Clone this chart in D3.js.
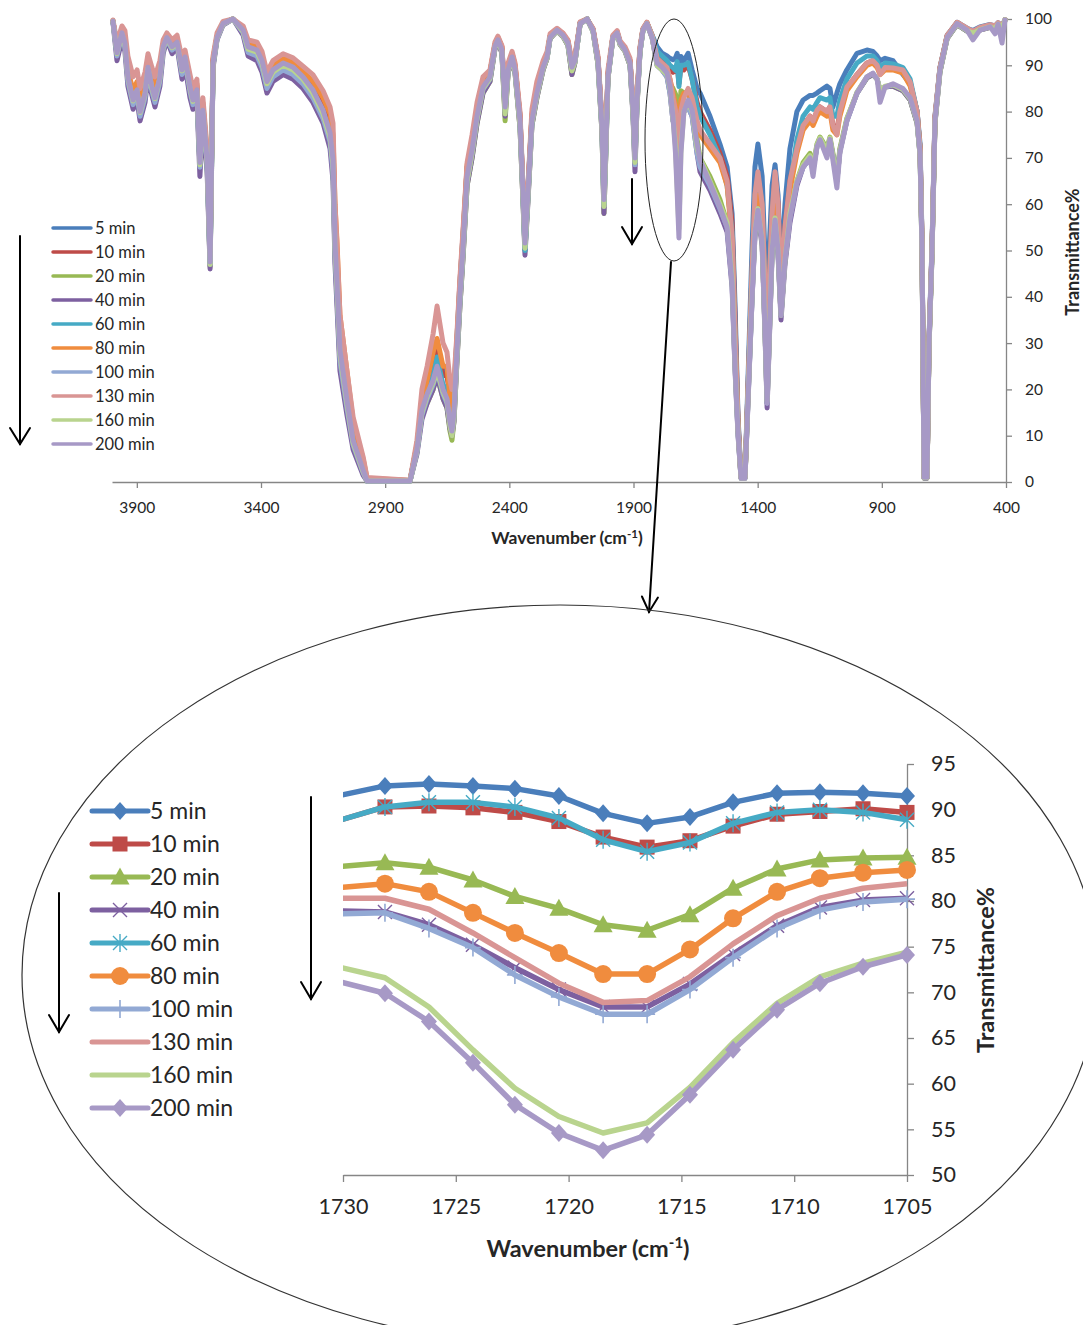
<!DOCTYPE html>
<html><head><meta charset="utf-8">
<script src="https://cdn.jsdelivr.net/npm/d3@7"></script>
<style>body{margin:0;background:#fff}svg{display:block}</style>
</head><body><svg id="c" width="1083" height="1325"></svg>
<script>
const seriesNames = ["5 min","10 min","20 min","40 min","60 min","80 min","100 min","130 min","160 min","200 min"];
const seriesColors = ["#4A7EBB","#BE4B48","#98B954","#7D60A0","#46AAC5","#F08C3E","#92A9D4","#D99594","#B9D48E","#A799C6"];
const seriesMarkers = ["diamond","square","triangle","x","star","circle","plus","none","none","diamond"];

const topXTicks = [3900,3400,2900,2400,1900,1400,900,400];
const topYTicks = [0,10,20,30,40,50,60,70,80,90,100];
const topWavenumbers = [
3996,3980,3960,3948,3936,3915,3899,3887,3867,3855,
3839,3827,3807,3794,3779,3758,3738,3718,3706,3686,
3674,3658,3646,3634,3617,3605,3593,3577,3553,3513,
3472,3452,3416,3396,3376,3352,3311,3271,3231,3191,
3150,3122,3110,3102,3094,3082,3054,3029,2989,2973,
2800,2772,2752,2731,2707,2691,2667,2651,2639,2631,
2623,2611,2599,2587,2570,2550,2530,2506,2478,2458,
2446,2430,2417,2405,2389,2377,2357,2345,2337,2325,
2309,2289,2264,2248,2236,2208,2184,2164,2148,2136,
2115,2087,2063,2043,2027,2019,2011,2003,1983,1966,
1954,1934,1914,1902,1894,1886,1874,1862,1846,1825,
1805,1785,1765,1753,1741,1731,1724,1717,1709,1697,
1680,1664,1644,1632,1592,1552,1523,1503,1491,1479,
1467,1451,1439,1423,1411,1399,1382,1370,1362,1354,
1342,1330,1318,1306,1290,1270,1242,1217,1189,1177,
1161,1149,1121,1109,1097,1081,1069,1041,1000,960,
936,919,907,887,855,815,786,758,746,738,
730,718,710,698,686,666,637,597,557,533,
505,464,444,432,416,404];

const top5 = [
99.6,93.5,97.2,95.2,88,83.5,85.5,81,85,90,
86,84,88,94.3,96.2,94.3,95.2,89.5,92,86,
83,85,70,81,70,48.5,91,96.2,99,100,
97.8,94.3,93.5,91.3,87,89.3,90.8,90,88,85.5,
81.5,77,72,56,48,33,21,11,3.5,0.5,
0.3,8,17,22,27,30,24,24,20,17,
20,31,43,53,68,73,80,86,88,94.3,
95.8,93.6,82,89.5,92,89.5,79,63.5,52,63.5,
79,85,90,92,96.2,97.8,96.7,95,90,91.3,
99.2,100,97.8,91.5,77.5,61.5,74,88,96.2,97.2,
95,93.6,91,81,71,83,93.5,97.8,99.2,96.5,
94,92.6,92,91.5,91.2,91.6,92.6,88.5,91.9,91,
92.6,89,85,84,79,73,68,58,38,14,
1,1,22,50,68,73,66,48,40,50,
64,68.5,62,45,60,72,80,82.5,83.5,83.5,
84,84.5,85.5,85,81,84,86,89,92.6,93.3,
93,92,91,91.5,91,88,86,80,73,52,
1.2,1.2,31,51,79,89.5,96.5,99.3,98,97.5,
98.3,98.8,98.5,99.2,98.5,99.8];
const top10 = [
99.6,93.5,97.4,95.3,88.5,84,86,82,86,90.5,
87,85,89,94.5,96.3,94.6,95.5,90,92.3,86.5,
83.5,85.5,70.5,81.5,70.5,48.5,91.2,96.3,99.1,100,
98,94.6,94,92,87.5,90,91.5,90.6,88.5,86,
82,78,73,57,49,34,22,12,4,0.5,
0.3,8,16.5,21,26,29,23,23,18,15,
18,30,42,52,68,73,80.5,86.5,88.5,94.5,
96,94,82,90,92.5,90,79,63,52,63,
79,85,90,92.2,96.3,97.8,96.8,95.2,90.2,91.5,
99.2,100,97.8,91.5,77.5,62,74,88,96.2,97.2,
95,93.5,91,81,71,83,93.5,97.8,99.2,96.3,
92,91,90,89,88.5,88.9,90.2,86,89.8,89,
90,87,82,80,76,71,66,56,35,13,
1,1,20,45,62,66,60,42,30,42,
58,66,60,42,55,65,72,77,79,78,
80,81,80,81,77,76,80,85,88,90.5,
91,90,88.5,89.5,89.5,89,86.4,80,72,51,
1,1,30,50,78.5,89.3,96.3,99.2,97.8,97,
98,98.6,98.3,99,98.2,99.8];
const top20 = [
99.4,92.3,96.8,94.3,87,82,84,79.5,83.5,89,
84.8,82.5,87,93.5,95.8,93.5,94.6,88.5,91.3,84.5,
81.5,84,68,79.5,68.5,46.5,90,95.8,98.9,100,
97.2,93.3,92.5,90,85.5,88,89.5,88.6,86.5,83.5,
79,73.5,67,49,40,26,16,8,2,0.2,
0.2,6.5,14.5,17,20,23,18,16,11,9,
13,26,38,48,64,70,77.5,84,86.5,93.5,
95,92.8,78,88.3,91.3,88.3,76.5,60.5,50,61,
77,83,89,91.5,95.8,97.4,96.2,94.3,88,90.5,
98.9,100,97.3,90.2,75.5,58,71.5,87,95.8,96.8,
94.5,93,90,79.5,68.5,81,92.8,97.5,99,96,
91,89.5,88,86,85,83.8,82.3,76.8,84.5,84,
84,81,74,70,66,61,56,45,26,11,
1,1,18,40,54,59,52,32,17,30,
50,57,50,36,48,58,65,69,71,68,
73,74.5,72,74.5,71,66,72,78.5,84,87.3,
88,87,84.5,85.3,85.5,84.5,82.5,77.5,70.5,49,
0.8,0.8,29,49,77.5,88.5,95.8,98.8,97.4,96.8,
97.6,98.2,97.8,98.8,98,99.8];
const top40 = [
99.3,91,95.5,93,85.5,80.5,82.5,78,82,87.5,
83.5,81,85.5,92.5,95.5,92.5,94,87,90,83,
80.5,82.5,66,78,67,46,89.5,95.5,98.7,100,
96.5,92,91,88.5,84,86.5,88,87,85,82,
77.5,72,65,47,38,24,14.5,7,1.5,0.2,
0.2,6,13.5,17,20,23,18,16,11.5,10,
13,26,38,48,64,70,77.5,84,86.5,93.5,
95,92.6,79,88.3,91.3,88.3,76.5,60.5,49,60.5,
77,83,89,91.5,95.8,97.4,96.2,94.3,88,90.5,
98.9,100,97.3,90.2,75.5,58,71.5,87,95.8,96.8,
94.5,93,90,79,67,81,92.8,97.5,99,96,
90,89,87.5,84,78,78.9,75.2,68.4,79.3,80,
81,79,71,67,63,58,54,42,24,10,
0.8,0.8,17,39,53,58,51,31,16,29,
49,56,49,35,47,56,64,68,70,67.5,
72.5,74,71.5,74,70.5,65,71.5,78,84,87.3,
88,87,84.5,85.3,85.5,84.5,82.5,77.5,70.5,49,
0.8,0.8,29,49,77.5,88.5,95.8,98.8,97.4,96.8,
97.6,98.2,97.8,98.8,98,99.8];
const top60 = [
99.5,92.7,97,94.8,87.5,82.5,84.7,80,84,89.6,
85.3,83,87.5,94,96,94,95,89,91.8,85.3,
82.5,84.7,69,80.3,69.5,47.5,90.5,96,99,100,
97.4,93.6,92.8,90.5,86,88.5,90,89,87,84,
80,75,69,52,44,29,18,9,2.6,0.2,
0.2,7,15,19,23,27,21,20,15,13,
16,28,40,50,66,71.7,79,85.3,87.5,94,
95.5,93.3,80.5,89,91.8,89,78,62,50,62,
78,84,89.6,91.8,96,97.6,96.5,94.8,89.2,91,
99,100,97.6,91,76.5,60,73,87.5,96,97,
94.8,93.3,90.5,80.3,70,82,93,97.6,99,96.5,
93,92,91,90,89.5,88.9,90.8,85.4,90,90,
90.5,87,81,79,75,70,64,54,33,12,
1,1,20,45,62,66,60,42,30,42,
58,65,58,41,54,64,74,79,81,80.5,
82,83,82.5,83,79,79,82.5,87,90.5,92,
92,91,89.5,90.5,90.3,89.5,87,80,72,51,
1,1,30,50,78.5,89.3,96.3,99.2,97.8,97.2,
98.1,98.6,98.4,99,98.3,99.8];
const top80 = [
99.6,93.5,97.5,95.5,89,84.5,86.5,82.5,86.5,91,
87.5,85.5,89,94.5,96.3,94.8,95.7,90.5,92.5,87,
84,86,71,82,71,49,91.5,96.3,99.1,100,
98,94.8,94.2,92,87.8,90,91.5,90.6,88.8,86.5,
83,79.5,75,60,52,36,24,13,5,0.8,
0.3,8,17,22,28,31,25,25,18,15,
18,31,43,53,68.5,73.5,80.8,86.5,88.5,94.5,
96,94,82,90,92.5,90,79,63,52,63,
79.5,85.5,90.3,92.3,96.3,97.8,96.8,95.2,90.2,91.5,
99.2,100,97.8,91.5,77.5,62,74,88,96.2,97.2,
95,93.5,91,81,71,83,93.5,97.8,99.2,96.3,
91,90,89,87,84,81.5,78.7,72,82.5,84,
84,82,77,75,72,69,64,52,31,12,
1,1,19,42,58,62,55,38,28,40,
55,62,55,40,52,63,71,76,78,77,
79,80,79,80,76,75,79,84.5,87.5,90,
90.5,89.5,88,89,89,88.3,85.5,79.5,72,51,
1,1,30,50,78.5,89.3,96.3,99.2,97.8,97,
98,98.6,98.3,99,98.2,99.8];
const top100 = [
99.4,92,96.5,94,86.5,81.5,83.7,79,83,88.6,
84.3,82,86.5,93.3,95.6,93.3,94.4,88,90.8,84.3,
81.5,83.7,68,79.3,68.5,47,90,95.7,98.8,100,
97,92.8,92,89.5,85,87.5,89,88,86,83,
78.5,73.5,67,49,40,26,16,8,2,0.2,
0.2,6.5,14.5,18,21,24,19,17,12.5,10.5,
14,27,39,49,65,71,78.5,84.8,87,93.8,
95.3,93,80,88.6,91.5,88.6,77.5,61.5,50.5,61.5,
77.5,83.5,89.3,91.6,95.9,97.5,96.3,94.5,89,90.7,
98.9,100,97.4,90.5,76,59.5,72,87.2,95.9,96.9,
94.6,93.1,90.2,79.6,68.5,81.5,92.8,97.5,99,96,
90,89,87.5,84,78,78.6,74.9,67.6,79,80,
81,79,71,68,64,59,55,43,25,10.5,
0.8,0.8,17.5,39,54,59,52,32,17,30,
50,57,50,36,48,57,64.6,68,70,67.5,
72.5,74,71.5,74,70.5,65,71.5,78,84,87.5,
88.2,87,84.5,85.3,85.8,84.8,82.8,77.8,70.8,49.5,
0.9,0.9,29.5,49.5,77.8,88.8,95.9,98.9,97.5,96.9,
97.7,98.3,97.9,98.9,98.1,99.8];
const top130 = [
99.8,95,98.5,97.5,92,87.5,89,85,88.5,92.5,
89.5,87.5,91,95.5,97,95.5,96.5,91.5,93.3,88,
85,87,72,83,72,50,92,97,99.5,100,
98.5,95.5,95,93,88.5,91,92.5,91.6,89.8,88,
84.5,81,77.5,60,51,36,24,14,5.5,1,
0.4,9,20,25,32,38,30,28,22,20,
22,32,44,54,69,75,82,87.5,89,95,
96.3,94.3,82.5,90.5,93,90.5,80,64,53,64,
80.5,86.5,91,93,96.8,98,97,95.5,91,92,
99.4,100,98,92,78.5,63,75,89,96.5,97.5,
95.3,94,91.5,82,72,84,94,98,99.3,96.5,
91.5,90.5,89.5,87,83,80.3,76.5,69,80.3,83,
85,83,78,76,73,70,65,53,32,12,
1,1,20,45,62,67,60,42,30,42,
58,67,60,42,55,65,72,77,79,78,
80.3,81,80,81,77,75,80,85.3,88,90.5,
91,90,88,89.5,89.4,89,86.4,80,72,51,
1,1,30.5,50.5,79,89.5,96.5,99.3,98,97.3,
98.2,98.8,98.5,99.2,98.5,99.8];
const top160 = [
99.5,92.5,96.8,94.5,87.3,82.3,84.5,79.8,83.8,89.4,
85,82.8,87.3,93.8,95.9,93.8,94.8,88.8,91.6,85,
82.2,84.4,68.5,80,69,47,90.3,95.9,98.9,100,
97.3,93.5,92.8,90.5,86,88.5,90,89,87,84,
79.5,74.5,68.5,50.5,42,27.5,17,8.5,2.3,0.2,
0.2,6.8,15,18.5,21.5,24,19.5,17.5,12,10,
14,27,39,49,65,71,78.5,85,87.2,93.8,
95.3,93,79.5,88.6,91.5,88.6,77,61.5,50.5,61.5,
77.5,83.5,89.3,91.6,95.9,97.5,96.3,94.5,88.8,90.7,
98.9,100,97.4,90.5,76,59.5,72,87.2,95.9,96.9,
94.6,93.1,90.2,79.6,69,81.5,92.8,97.5,99,96,
90,89,88,85,78.5,72.7,63.7,54.6,71.7,80,
82,80,72,70,65,60,56,44,25,11,
0.8,0.8,18,40,54,59,52,32,17.5,30,
50,57,50,36,48,58,65,68.5,70.5,67.5,
72.8,74.3,71.5,74.3,70.5,65,71.5,78.3,84.2,87.5,
88.2,87,84.5,85.5,85.8,84.8,82.8,77.8,70.8,49.5,
0.9,0.9,29.5,49.5,77.8,88.8,95.9,98.9,97.5,96.9,
97.7,98.3,97.9,98.9,98.1,99.8];
const top200 = [
99.5,92.7,97,94.8,87.5,82.5,84.7,80,84,89.6,
85.3,83,87.5,94,96,94,95,89,91.8,85.3,
82.5,84.7,69,80.3,69.5,47.5,90.5,96,99,100,
97.6,94,93.3,91,86.5,89,90.5,89.6,87.5,84.7,
80.3,75.4,69.5,51.6,43,28.5,17.7,9,2.6,0.2,
0.2,7,15.5,19,22,25,20,18,13,11,
15,28,40,50,66,71.7,79,85.3,87.5,94,
95.5,93.3,81,89,91.8,89,78,62.4,51.6,62.4,
78,84,89.6,91.8,96,97.6,96.5,94.8,89.6,91,
99,100,97.6,91,76.7,61,73,87.5,96,97,
94.8,93.3,90.5,80.3,70,82,93,97.6,99,96,
90.5,89.6,88.3,85.3,78.8,71.1,62.3,52.7,71,80,
82.5,80.3,73,69.5,64.6,59.4,55,43,24.8,10.6,
0.8,0.8,17.7,39.3,53.8,58.7,52,32,17,30,
50,56.6,50,36,48,57,64.6,68,70,66,
72.4,73.9,70,74,69.5,63.5,71,78,84,87.5,
88.3,87,82,85.3,86,85,83,78,71,50,
1,1,30,50,78,89,96,99,97.6,95.5,
97.6,98.3,96.8,98.9,94.8,99.8];

const zoomXTicks = [1730,1725,1720,1715,1710,1705];
const zoomYTicks = [50,55,60,65,70,75,80,85,90,95];
const zoomWavenumbers = [1730.07,1728.14,1726.19,1724.24,1722.38,1720.43,1718.47,1716.52,1714.62,1712.71,1710.76,1708.86,1706.95,1705.0];
const zoom5   = [91.6,92.6,92.8,92.6,92.3,91.5,89.6,88.5,89.2,90.8,91.8,91.9,91.8,91.5];
const zoom10  = [88.9,90.3,90.4,90.2,89.7,88.7,87.0,85.9,86.6,88.2,89.5,89.8,90.1,89.7];
const zoom20  = [83.8,84.2,83.7,82.3,80.5,79.2,77.4,76.8,78.5,81.4,83.5,84.5,84.7,84.8];
const zoom40  = [78.9,78.8,77.4,75.2,72.7,70.3,68.4,68.4,70.9,74.2,77.3,79.3,80.1,80.3];
const zoom60  = [88.9,90.3,90.8,90.8,90.3,89.1,86.7,85.4,86.4,88.5,89.7,90.0,89.7,88.9];
const zoom80  = [81.5,81.9,81.0,78.7,76.5,74.3,72.0,72.0,74.7,78.1,81.0,82.5,83.1,83.4];
const zoom100 = [78.6,78.7,77.0,74.9,71.9,69.5,67.6,67.6,70.3,73.8,77.0,79.0,79.9,80.2];
const zoom130 = [80.3,80.3,79.1,76.5,73.8,71.0,68.9,69.1,71.7,75.3,78.4,80.3,81.4,81.9];
const zoom160 = [72.7,71.6,68.4,63.7,59.5,56.4,54.6,55.7,59.6,64.5,68.8,71.7,73.2,74.4];
const zoom200 = [71.1,69.9,66.8,62.3,57.7,54.6,52.7,54.4,58.8,63.7,68.1,71.0,72.8,74.1];

const topSeries = [top5,top10,top20,top40,top60,top80,top100,top130,top160,top200];
const zoomSeries = [zoom5,zoom10,zoom20,zoom40,zoom60,zoom80,zoom100,zoom130,zoom160,zoom200];

const FONT = "Lato, 'Open Sans', sans-serif";
const AXIS = "#868686";
const TXT = "#262626";
const svg = d3.select("#c");

function styleAxis(g, fs){
  g.attr("font-family", FONT).attr("font-size", fs);
  g.select(".domain").attr("stroke", AXIS).attr("stroke-width", 1.3);
  g.selectAll(".tick line").attr("stroke", AXIS).attr("stroke-width", 1.3);
  g.selectAll(".tick text").attr("fill", TXT);
}
function arrow(x1,y1,x2,y2,hl,hw,w){
  const a = Math.atan2(y2-y1,x2-x1);
  const g = svg.append("g").attr("stroke","#000").attr("stroke-width",w).attr("fill","none").attr("stroke-linecap","round");
  g.append("line").attr("x1",x1).attr("y1",y1).attr("x2",x2).attr("y2",y2);
  const p1=[x2-hl*Math.cos(a)+hw*Math.sin(a), y2-hl*Math.sin(a)-hw*Math.cos(a)];
  const p2=[x2-hl*Math.cos(a)-hw*Math.sin(a), y2-hl*Math.sin(a)+hw*Math.cos(a)];
  g.append("path").attr("d",`M${p1[0]},${p1[1]}L${x2},${y2}L${p2[0]},${p2[1]}`).attr("stroke-linejoin","miter");
}
function marker(g, type, x, y, color){
  if(type==="diamond"){
    g.append("path").attr("d",`M${x},${y-9}L${x+8},${y}L${x},${y+9}L${x-8},${y}Z`).attr("fill",color);
  } else if(type==="square"){
    g.append("rect").attr("x",x-7.5).attr("y",y-7.5).attr("width",15).attr("height",15).attr("fill",color);
  } else if(type==="triangle"){
    g.append("path").attr("d",`M${x},${y-9.5}L${x+9.5},${y+7.5}L${x-9.5},${y+7.5}Z`).attr("fill",color);
  } else if(type==="circle"){
    g.append("circle").attr("cx",x).attr("cy",y).attr("r",9).attr("fill",color);
  } else if(type==="x"){
    g.append("path").attr("d",`M${x-7},${y-7}L${x+7},${y+7}M${x-7},${y+7}L${x+7},${y-7}`).attr("stroke",color).attr("stroke-width",1.4);
  } else if(type==="star"){
    g.append("path").attr("d",`M${x-7},${y-7}L${x+7},${y+7}M${x-7},${y+7}L${x+7},${y-7}M${x},${y-9}L${x},${y+9}`).attr("stroke",color).attr("stroke-width",1.4);
  } else if(type==="plus"){
    g.append("path").attr("d",`M${x},${y-9}L${x},${y+9}M${x-8},${y}L${x+8},${y}`).attr("stroke",color).attr("stroke-width",1.6);
  }
}

// ---------- TOP CHART ----------
const xT = d3.scaleLinear().domain([4000,400]).range([112,1006]);
const yT = d3.scaleLinear().domain([0,100]).range([482,19]);

const axTB = svg.append("g").attr("transform","translate(0,482)")
  .call(d3.axisBottom(xT).tickValues(topXTicks).tickSize(6).tickSizeOuter(0).tickPadding(14).tickFormat(d3.format("d")));
styleAxis(axTB, 15.5);
const axTR = svg.append("g").attr("transform","translate(1006,0)")
  .call(d3.axisRight(yT).tickValues(topYTicks).tickSize(6).tickSizeOuter(0).tickPadding(13).tickFormat(d3.format("d")));
styleAxis(axTR, 15.5);

const lineT = d3.line().defined(d=>d[1]!=null && !isNaN(d[1])).x(d=>xT(d[0])).y(d=>yT(d[1]));
const gTop = svg.append("g");
topSeries.forEach((vals,i)=>{
  const pts = topWavenumbers.map((w,j)=>[w, vals[j]]);
  gTop.append("path").attr("d", lineT(pts)).attr("fill","none")
    .attr("stroke", seriesColors[i]).attr("stroke-width",5)
    .attr("stroke-linejoin","round").attr("stroke-linecap","round");
});

// top titles
const tx = svg.append("text").attr("x",567).attr("y",544).attr("text-anchor","middle")
  .attr("font-family",FONT).attr("font-size",17.5).attr("font-weight","bold").attr("fill",TXT);
tx.append("tspan").text("Wavenumber (cm");
tx.append("tspan").text("-1").attr("font-size",11.5).attr("dy",-6);
tx.append("tspan").text(")").attr("dy",6);
svg.append("text").attr("transform","translate(1079,252) rotate(-90)").attr("text-anchor","middle")
  .attr("font-family",FONT).attr("font-size",18).attr("font-weight","bold").attr("fill",TXT).text("Transmittance%");

// top legend
const lgT = svg.append("g");
seriesNames.forEach((n,i)=>{
  const y = 228 + i*24;
  lgT.append("line").attr("x1",53).attr("x2",91).attr("y1",y).attr("y2",y)
    .attr("stroke",seriesColors[i]).attr("stroke-width",3.5).attr("stroke-linecap","round");
  lgT.append("text").attr("x",95).attr("y",y+5.5).attr("font-family",FONT).attr("font-size",16.5).attr("fill",TXT).text(n);
});

// top annotations
arrow(20,236,20,444,16,10,2);
arrow(632,179,632,244,17,10,2);
svg.append("ellipse").attr("cx",674).attr("cy",140).attr("rx",29).attr("ry",121)
  .attr("fill","none").attr("stroke","#222").attr("stroke-width",1);
arrow(671,262,649,612,15,8,2);

// ---------- BOTTOM CHART ----------
svg.append("ellipse").attr("cx",560).attr("cy",975).attr("rx",538).attr("ry",370)
  .attr("fill","none").attr("stroke","#333").attr("stroke-width",1.2);

const xB = d3.scaleLinear().domain([1730,1705]).range([343,907]);
const yB = d3.scaleLinear().domain([50,95]).range([1175,764]);

const axBB = svg.append("g").attr("transform","translate(0,1175)")
  .call(d3.axisBottom(xB).tickValues(zoomXTicks).tickSize(7).tickSizeOuter(0).tickPadding(17).tickFormat(d3.format("d")));
styleAxis(axBB, 21.5);
const axBR = svg.append("g").attr("transform","translate(907,0)")
  .call(d3.axisRight(yB).tickValues(zoomYTicks).tickSize(7).tickSizeOuter(0).tickPadding(17).tickFormat(d3.format("d")));
styleAxis(axBR, 21.5);

svg.append("defs").append("clipPath").attr("id","clipB").append("rect")
  .attr("x",343).attr("y",700).attr("width",700).attr("height",520);
const lineB = d3.line().x(d=>xB(d[0])).y(d=>yB(d[1]));
const gBot = svg.append("g");
zoomSeries.forEach((vals,i)=>{
  const pts = zoomWavenumbers.map((w,j)=>[w, vals[j]]);
  const gs = gBot.append("g");
  gs.append("path").attr("d", lineB(pts)).attr("clip-path","url(#clipB)").attr("fill","none")
    .attr("stroke", seriesColors[i]).attr("stroke-width",5.5).attr("stroke-linejoin","round");
  pts.filter(p=>p[0]<=1730).forEach(p=>marker(gs, seriesMarkers[i], xB(p[0]), yB(p[1]), seriesColors[i]));
});

// bottom titles
const bx = svg.append("text").attr("x",588).attr("y",1257).attr("text-anchor","middle")
  .attr("font-family",FONT).attr("font-size",23.5).attr("font-weight","bold").attr("fill",TXT);
bx.append("tspan").text("Wavenumber (cm");
bx.append("tspan").text("-1").attr("font-size",15).attr("dy",-9);
bx.append("tspan").text(")").attr("dy",9);
svg.append("text").attr("transform","translate(994,970) rotate(-90)").attr("text-anchor","middle")
  .attr("font-family",FONT).attr("font-size",23.5).attr("font-weight","bold").attr("fill",TXT).text("Transmittance%");

// bottom legend
const lgB = svg.append("g");
seriesNames.forEach((n,i)=>{
  const y = 811 + i*33;
  lgB.append("line").attr("x1",92).attr("x2",148).attr("y1",y).attr("y2",y)
    .attr("stroke",seriesColors[i]).attr("stroke-width",5).attr("stroke-linecap","round");
  marker(lgB, seriesMarkers[i], 120, y, seriesColors[i]);
  lgB.append("text").attr("x",150).attr("y",y+7.5).attr("font-family",FONT).attr("font-size",23).attr("fill",TXT).text(n);
});

arrow(311,797,311,999,17,10,2);
arrow(59,893,59,1032,17,10,2);
</script></body></html>
